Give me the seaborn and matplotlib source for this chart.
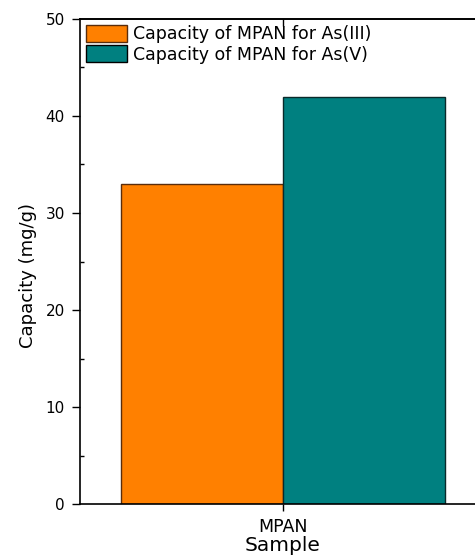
import numpy as np
import pandas as pd
import matplotlib
matplotlib.use("Agg")
import matplotlib.pyplot as plt
from matplotlib.ticker import MultipleLocator
import seaborn as sns

samples = ["MPAN"]
series = ["Capacity of MPAN for As(III)", "Capacity of MPAN for As(V)"]
capacity_as3 = [33]
capacity_as5 = [42]
colors = ["#FF8000", "#008080"]

df = pd.DataFrame({
    "Sample": samples * 2,
    "Series": [series[0]] * len(samples) + [series[1]] * len(samples),
    "Capacity": capacity_as3 + capacity_as5,
})

sns.set_style("ticks")
plt.rcParams["font.family"] = ["DejaVu Sans"]
plt.rcParams["text.color"] = "black"
plt.rcParams["axes.labelcolor"] = "black"
plt.rcParams["xtick.color"] = "black"
plt.rcParams["ytick.color"] = "black"
plt.rcParams["axes.edgecolor"] = "black"

fig = plt.figure(figsize=(4.75, 5.56), dpi=100)
ax = fig.add_axes([80 / 475, 52 / 556, 406 / 475, 485 / 556])

sns.barplot(data=df, x="Sample", y="Capacity", hue="Series", palette=colors,
            width=0.8, edgecolor="black", linewidth=1, saturation=1, ax=ax)
for p, ec in zip(ax.patches, ["#5a2d0c", "#0a2a2a"]):
    p.set_edgecolor(ec)

ax.set_xlim(-0.5, 0.5)
ax.set_ylim(0, 50)
ax.yaxis.set_major_locator(MultipleLocator(10))
ax.yaxis.set_minor_locator(MultipleLocator(5))
ax.tick_params(axis="y", which="major", direction="out", length=6, width=1,
               labelsize=11, pad=5)
ax.tick_params(axis="y", which="minor", direction="in", length=3, width=1)
ax.tick_params(axis="x", which="major", direction="out", length=5, width=1,
               labelsize=12.5, pad=5)
ax.spines["right"].set_visible(False)
for s in ["left", "bottom", "top"]:
    ax.spines[s].set_linewidth(1.2)

# inward tick on the top spine
top = ax.secondary_xaxis("top")
top.set_xticks([0])
top.set_xticklabels([])
top.tick_params(direction="in", length=5, width=1)
top.spines["top"].set_linewidth(1.2)

ax.set_xlabel("Sample", fontsize=14.5, labelpad=0)
ax.set_ylabel("Capacity (mg/g)", fontsize=13)
ax.yaxis.set_label_coords(-0.106, 0.472)

leg = ax.legend(loc="upper left", frameon=False, fontsize=12.5, handlelength=2.35,
                handleheight=1.1, handletextpad=0.35, borderaxespad=0.15,
                labelspacing=0.12, borderpad=0.2)
for h, ec in zip(leg.legend_handles, ["#5a2d0c", "black"]):
    h.set_edgecolor(ec)

fig.savefig("out.png", dpi=100)
